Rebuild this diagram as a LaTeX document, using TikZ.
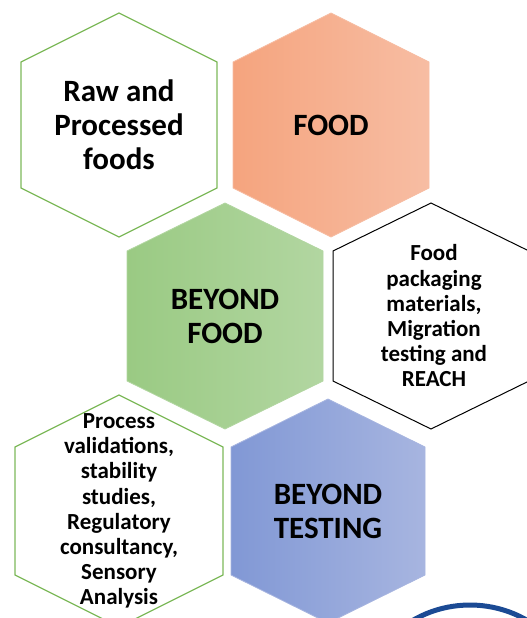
\documentclass[tikz,border=0pt]{standalone}
\usepackage{fontspec}
\setmainfont{Carlito}
\usetikzlibrary{positioning}

\definecolor{foodLeft}{HTML}{F5A47E}
\definecolor{foodRight}{HTML}{F7BDA3}
\definecolor{greenLeft}{HTML}{9ACA83}
\definecolor{greenRight}{HTML}{B2D6A1}
\definecolor{blueLeft}{HTML}{8198D5}
\definecolor{blueRight}{HTML}{A7B5E0}
\definecolor{lineGreen}{HTML}{7DB95A}
\definecolor{logoBlue}{HTML}{1B4A94}

\tikzset{
  bigText/.style={align=center,text=black,font=\bfseries\fontsize{31}{34}\selectfont},
  smallText/.style={align=center,text=black,font=\bfseries\fontsize{23}{25.2}\selectfont},
  greenOutline/.style={draw=lineGreen,line width=1.2pt,fill=white},
  blackOutline/.style={draw=black,line width=1pt,fill=white},
  foodHex/.style={draw=foodRight,line width=0.8pt,left color=foodLeft,right color=foodRight},
  greenHex/.style={draw=greenRight,line width=0.8pt,left color=greenLeft,right color=greenRight},
  blueHex/.style={draw=blueRight,line width=0.8pt,left color=blueLeft,right color=blueRight},
}

% hexagon: style, centre x, centre y, half width, half side, tip height
\newcommand{\hexshape}[6]{%
  \path[#1] (#2,#3-#5-#6) -- (#2+#4,#3-#5) -- (#2+#4,#3+#5) -- (#2,#3+#5+#6)
    -- (#2-#4,#3+#5) -- (#2-#4,#3-#5) -- cycle;}

\begin{document}
\begin{tikzpicture}[x=1pt,y=-1pt]
\useasboundingbox (0,0) rectangle (527,618);
\clip (0,0) rectangle (527,618);

% ===== Top row =====
\hexshape{greenOutline}{119}{125}{98}{63}{49}
\node[bigText] (raw) at (119,125) {Raw and\\Processed\\foods};
\hexshape{foodHex}{331}{125}{98}{63}{49}
\node[bigText] (food) at (331,125) {FOOD};

% ===== Middle row =====
\hexshape{greenHex}{225}{316}{98}{65}{48}
\node[bigText] (beyondFood) at (225,316) {BEYOND\\FOOD};
\hexshape{blackOutline}{431}{316}{98}{65}{48}
\node[smallText] (packaging) at (434,316) {Food\\packaging\\materials,\\Migration\\testing and\\REACH};

% ===== Bottom row =====
\hexshape{greenOutline}{119}{511}{104}{64}{52}
\node[smallText] (process) at (119,511) {Process\\validations,\\stability\\studies,\\Regulatory\\consultancy,\\Sensory\\Analysis};
\hexshape{blueHex}{328}{511}{97}{64}{48}
\node[bigText] (beyondTesting) at (328,511) {BEYOND\\TESTING};

% ===== Logo ring, bottom right =====
\coordinate (logo) at (470,719);
\draw[logoBlue,line width=5pt] (logo) circle[radius=114];

\end{tikzpicture}
\end{document}
